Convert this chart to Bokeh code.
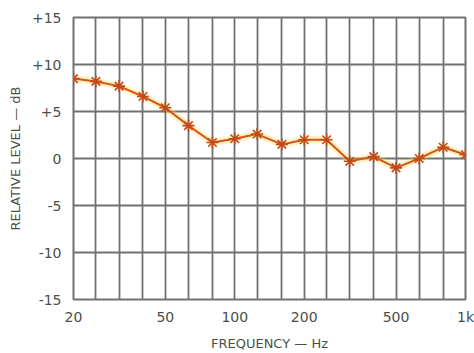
from bokeh.plotting import figure
from bokeh.models import FixedTicker, Range1d
from bokeh.embed import file_html
from bokeh.resources import INLINE

freqs = [20, 25, 31.5, 40, 50, 63, 80, 100, 125, 160, 200, 250, 315, 400, 500, 630, 800, 1000]
level_db = [8.5, 8.2, 7.7, 6.6, 5.4, 3.5, 1.7, 2.1, 2.6, 1.5, 2.0, 2.0, -0.3, 0.2, -1.0, 0.0, 1.2, 0.4]
x_ticks = [20, 50, 100, 200, 500, 1000]
x_tick_labels = {1000: "1k"}
y_ticks = [-15, -10, -5, 0, 5, 10, 15]
y_tick_labels = {15: "+15", 10: "+10", 5: "+5", 0: "0", -5: "-5", -10: "-10", -15: "-15"}
x_title = "FREQUENCY — Hz"
y_title = "RELATIVE LEVEL — dB"

grid_col = "#6f736c"
txt_col = "#4a5048"
font = "DejaVu Sans"

W, H = 474, 353
p = figure(width=W, height=H, x_axis_type="log", output_backend="svg",
           toolbar_location=None, x_range=Range1d(20, 1000), y_range=Range1d(-15, 15),
           min_border_left=73, min_border_right=9, min_border_top=17, min_border_bottom=53)
p.background_fill_color = "white"
p.border_fill_color = "white"
p.outline_line_color = grid_col
p.outline_line_width = 2

p.xgrid.ticker = FixedTicker(ticks=freqs)
p.ygrid.ticker = FixedTicker(ticks=y_ticks)
for g in (p.xgrid, p.ygrid):
    g.grid_line_color = grid_col
    g.grid_line_width = 1.8
    g.grid_line_alpha = 1.0

p.xaxis.ticker = FixedTicker(ticks=x_ticks)
p.xaxis.major_label_overrides = x_tick_labels
p.yaxis.ticker = FixedTicker(ticks=y_ticks)
p.yaxis.major_label_overrides = y_tick_labels
for ax in (p.xaxis, p.yaxis):
    ax.axis_line_color = None
    ax.major_tick_line_color = None
    ax.minor_tick_line_color = None
    ax.major_tick_out = 0
    ax.major_tick_in = 0
    ax.minor_tick_out = 0
    ax.minor_tick_in = 0
    ax.major_label_text_color = txt_col
    ax.major_label_text_font = font
    ax.major_label_text_font_size = "14px"
    ax.axis_label_text_color = txt_col
    ax.axis_label_text_font = font
    ax.axis_label_text_font_size = "13px"
    ax.axis_label_text_font_style = "normal"
p.xaxis.axis_label = x_title
p.yaxis.axis_label = y_title
p.yaxis.major_label_standoff = 12
p.xaxis.major_label_standoff = 9
p.xaxis.axis_label_standoff = 8
p.yaxis.axis_label_standoff = 6

# glow
p.line(freqs, level_db, line_color="#ffd84a", line_width=7, line_alpha=0.35)
p.line(freqs, level_db, line_color="#d4561c", line_width=2)
p.scatter(freqs, level_db, marker="asterisk", size=12, line_color="#c24a1a", line_width=1.6)

open("out.html", "w").write(file_html(p, INLINE))
